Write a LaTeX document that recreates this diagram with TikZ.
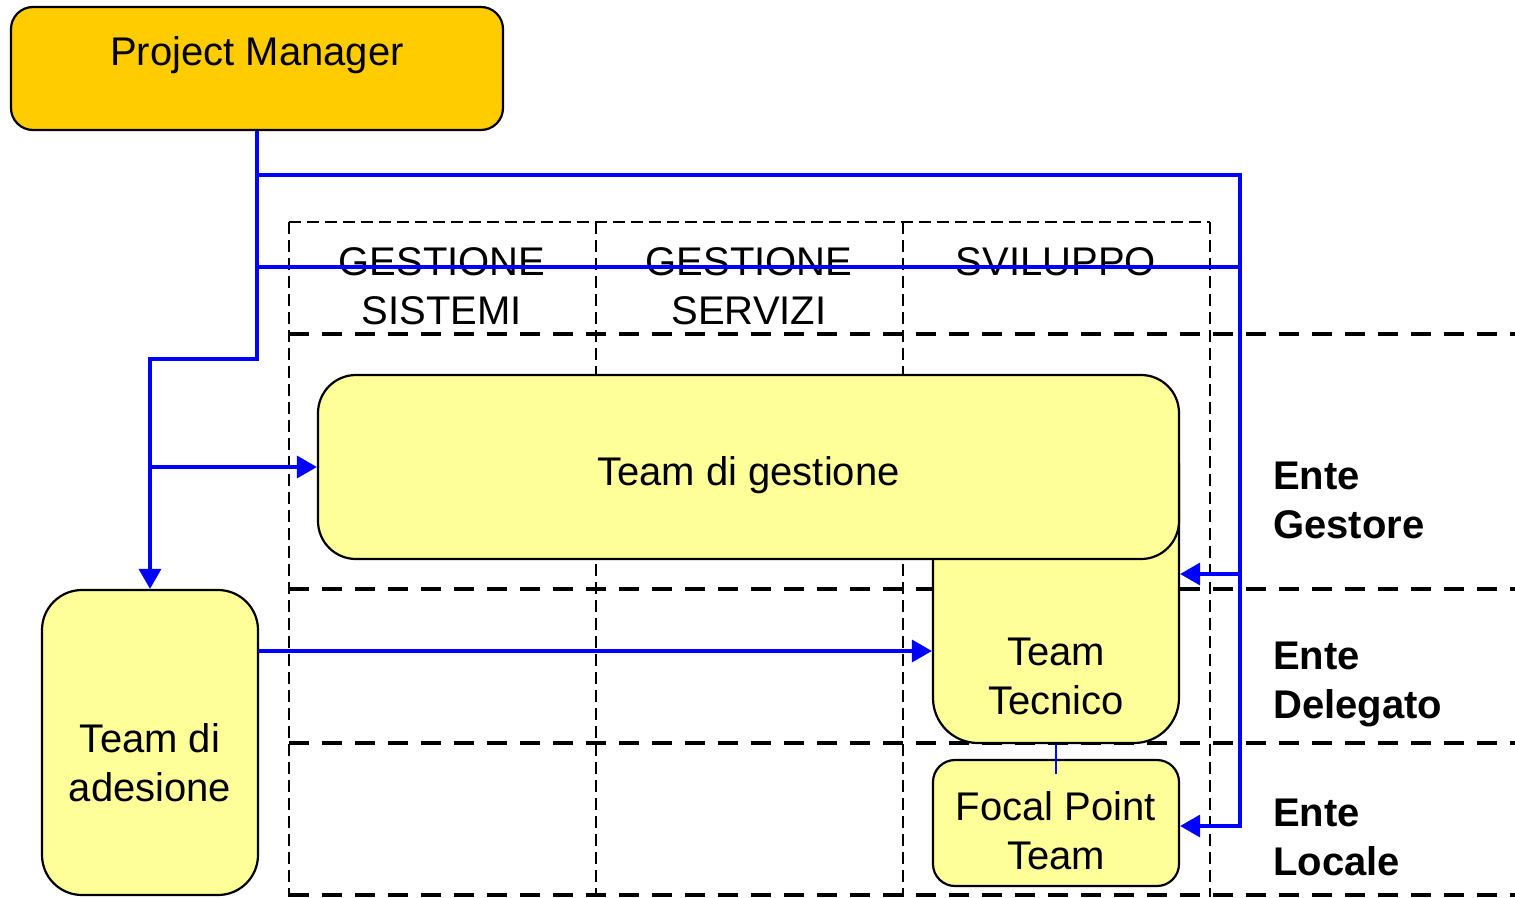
\documentclass[tikz,border=0pt]{standalone}
\usepackage{fontspec}
\setmainfont{Liberation Sans}
\usetikzlibrary{arrows.meta}
\definecolor{pmfill}{HTML}{FFCC00}
\definecolor{boxfill}{HTML}{FFFF99}
\definecolor{conn}{HTML}{0000FF}
\begin{document}
\begin{tikzpicture}[x=1pt,y=-1pt,
  every node/.style={font=\fontsize{40}{49}\selectfont},
  box/.style={draw=black,line width=2.2pt,fill=boxfill,inner sep=0pt,align=center},
  txt/.style={inner sep=0pt,align=center},
  lab/.style={inner sep=0pt,align=left,anchor=west,font=\fontsize{40}{49}\selectfont\bfseries},
  thindash/.style={draw=black,line width=1.6pt,dash pattern=on 12pt off 6pt},
  thickdash/.style={draw=black,line width=3.6pt,dash pattern=on 20pt off 13pt},
  wire/.style={draw=conn,line width=3.4pt},
  thinwire/.style={draw=conn,line width=2.2pt},
  arr/.style={wire,-{Triangle[length=20pt,width=22pt]}}]
\useasboundingbox (0,0) rectangle (1515,897);
% grid
\foreach \x in {289,596,903,1210}{\draw[thindash] (\x,222) -- (\x,897);}
\draw[thindash] (289,222) -- (1210,222);
\foreach \y in {334,589,743,895}{\draw[thickdash] (289,\y) -- (1515,\y);}
% headers
\node[txt] (h1) at (442,286) {GESTIONE\\SISTEMI};
\node[txt] (h2) at (749,286) {GESTIONE\\SERVIZI};
\node[txt,anchor=base] (h3) at (1056,275) {SVILUPPO};
% side labels
\node[lab] (l1) at (1273,500) {Ente\\Gestore};
\node[lab] (l2) at (1273,684) {Ente\\Delegato};
\node[lab] (l3) at (1273,837) {Ente\\Locale};
% boxes
\node[box,fill=pmfill,rounded corners=22pt,minimum width=492pt,minimum height=123pt] (pm) at (257,68.5) {};
\node[txt] (pmt) at (257,55) {Project Manager};
\node[box,rounded corners=45pt,minimum width=246pt,minimum height=323pt] (tt) at (1056,581.5) {};
\node[txt] (ttt) at (1056,676) {Team\\Tecnico};
\node[box,rounded corners=38pt,minimum width=861pt,minimum height=184pt] (tdg) at (748.5,467) {};
\node[txt] (tdgt) at (748.5,475) {Team di gestione};
\node[box,rounded corners=22pt,minimum width=246pt,minimum height=126pt] (fp) at (1056,823) {};
\node[txt] (fpt) at (1056,831) {Focal Point\\Team};
\node[box,rounded corners=40pt,minimum width=216pt,minimum height=305pt] (tda) at (150,742.5) {};
\node[txt] (tdat) at (150,763) {Team di\\adesione};
% connectors
\coordinate (j1) at (150,359);
\coordinate (j2) at (150,467);
\coordinate (t1) at (258,175);
\coordinate (t2) at (1240,175);
\coordinate (t3) at (1240,826);
\coordinate (t4) at (1240,574);
\coordinate (m1) at (258,267);
\coordinate (m2) at (1240,267);
\coordinate (a1) at (258,651);
\draw[arr] (pm.south) |- (j1) -- (tda.north);
\draw[arr] (j2) -- (tdg.west);
\draw[arr] (t1) -- (t2) -- (t3) -- (fp.east |- t3);
\draw[arr] (t4) -- (tt.east |- t4);
\draw[wire] (m1) -- (m2);
\draw[arr] (a1) -- (tt.west |- a1);
\draw[thinwire] (tt.south) -- ++(0,30);
\end{tikzpicture}
\end{document}
